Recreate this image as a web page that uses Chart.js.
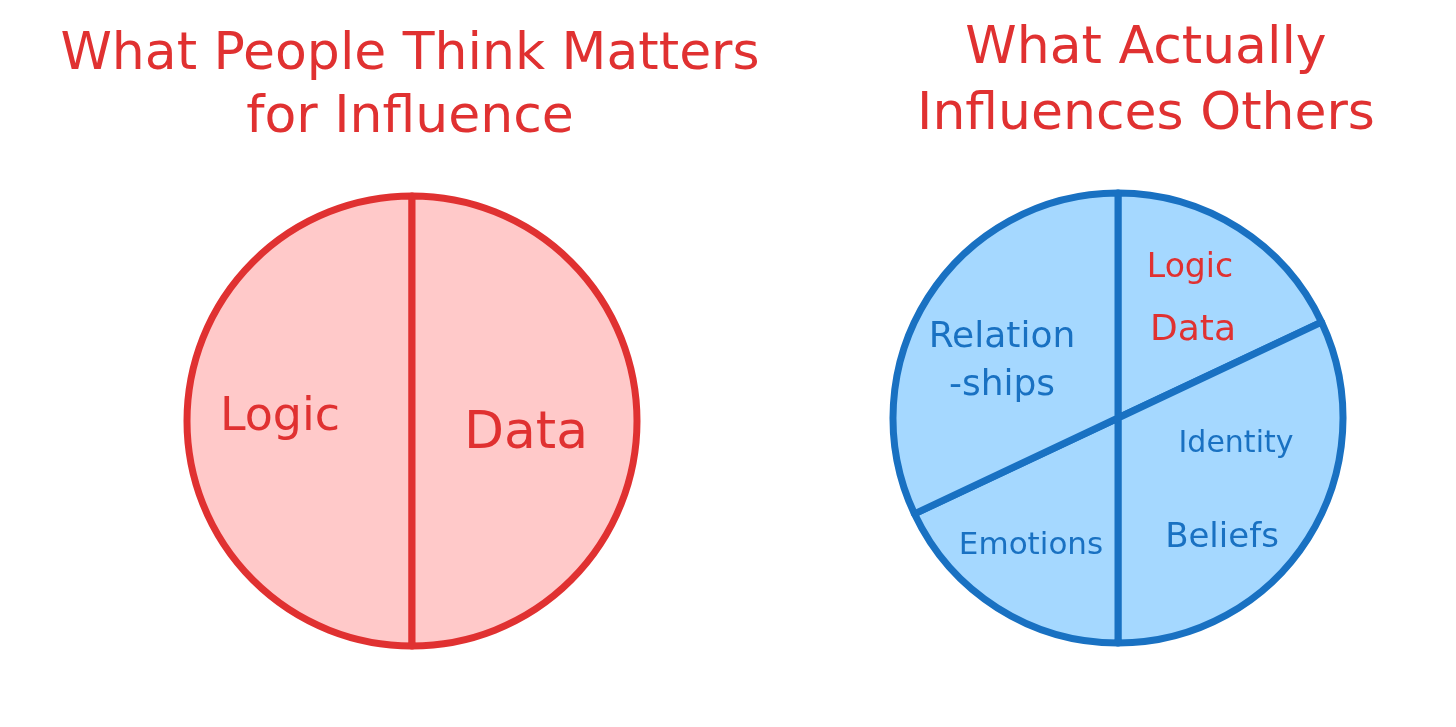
<!DOCTYPE html>
<html>
<head>
<meta charset="utf-8">
<script src="https://cdn.jsdelivr.net/npm/chart.js@4.4.1/dist/chart.umd.min.js"></script>
<style>
  html, body { margin: 0; padding: 0; background: #ffffff; }
  body { width: 1456px; height: 727px; position: relative; overflow: hidden; font-family: "DejaVu Sans", sans-serif; }
  .title { position: absolute; color: #e03131; font-size: 52px; text-align: center; white-space: nowrap; }
  #titleLeft { left: 0; width: 820px; top: 20px; line-height: 63px; }
  #titleRight { left: 836px; width: 620px; top: 12px; line-height: 66px; }
  .pie { position: absolute; width: 480px; height: 480px; }
  #pieLeftBox { left: 172px; top: 181px; }
  #pieRightBox { left: 878px; top: 178px; }
</style>
</head>
<body>
<div class="title" id="titleLeft"></div>
<div class="title" id="titleRight"></div>
<div class="pie" id="pieLeftBox"><canvas id="pieLeft"></canvas></div>
<div class="pie" id="pieRightBox"><canvas id="pieRight"></canvas></div>
<script>
// ---- data ----
const leftTitleLines = ["What People Think Matters", "for Influence"];
const rightTitleLines = ["What Actually", "Influences Others"];

const leftCategories = ["Logic", "Data"];
const leftValues = [50, 50];
const leftLabelLines = [["Logic"], ["Data"]];

const rightCategories = ["Logic / Data", "Identity / Beliefs", "Emotions", "Relationships"];
const rightValues = [18, 32, 18, 32];
const rightLabelLines = [["Logic", "Data"], ["Identity", "Beliefs"], ["Emotions"], ["Relation", "-ships"]];

// ---- styles ----
const RED = "#e03131", PINK = "#ffc9c9", BLUE = "#1971c2", LIGHTBLUE = "#a5d8ff";
const FONT = '"DejaVu Sans", sans-serif';

document.getElementById("titleLeft").innerHTML = leftTitleLines.join("<br>");
document.getElementById("titleRight").innerHTML = rightTitleLines.join("<br>");

// label placement (offsets from pie centre, baseline) per slice / line
const leftPlacement = [
  [{dx: -132, dy: 9, size: 46}],
  [{dx: 114, dy: 27, size: 52}]
];
const rightPlacement = [
  [{dx: 72, dy: -141, size: 33}, {dx: 75, dy: -78, size: 36}],
  [{dx: 118, dy: 34, size: 30}, {dx: 104, dy: 129, size: 34}],
  [{dx: -87, dy: 136, size: 31}],
  [{dx: -116, dy: -71, size: 36}, {dx: -116, dy: -23, size: 36}]
];

const sliceLabels = {
  id: "sliceLabels",
  afterDatasetsDraw(chart, args, opts) {
    const ctx = chart.ctx;
    const meta = chart.getDatasetMeta(0);
    const arc0 = meta.data[0];
    const cx = arc0.x, cy = arc0.y;
    ctx.save();
    ctx.textAlign = "center";
    ctx.textBaseline = "alphabetic";
    opts.lines.forEach((lines, i) => {
      lines.forEach((txt, j) => {
        const p = opts.placement[i][j];
        ctx.font = p.size + "px " + FONT;
        ctx.fillStyle = opts.colors[i];
        ctx.fillText(txt, cx + p.dx, cy + p.dy);
      });
    });
    ctx.restore();
  }
};

function makePie(id, cats, vals, fill, stroke, rotation, lines, placement, colors) {
  return new Chart(document.getElementById(id), {
    type: "pie",
    data: {
      labels: cats,
      datasets: [{
        data: vals,
        backgroundColor: fill,
        borderColor: stroke,
        borderWidth: 7,
        borderJoinStyle: "round",
        hoverOffset: 0
      }]
    },
    options: {
      responsive: true,
      maintainAspectRatio: false,
      animation: false,
      events: [],
      rotation: rotation,
      radius: 225,
      layout: { padding: 0 },
      plugins: {
        legend: { display: false },
        tooltip: { enabled: false },
        title: { display: false },
        sliceLabels: { lines: lines, placement: placement, colors: colors }
      }
    },
    plugins: [sliceLabels]
  });
}

makePie("pieLeft", leftCategories, leftValues, PINK, RED, 180,
  leftLabelLines, leftPlacement, [RED, RED]);
makePie("pieRight", rightCategories, rightValues, LIGHTBLUE, BLUE, 0,
  rightLabelLines, rightPlacement, [RED, BLUE, BLUE, BLUE]);
</script>
</body>
</html>
